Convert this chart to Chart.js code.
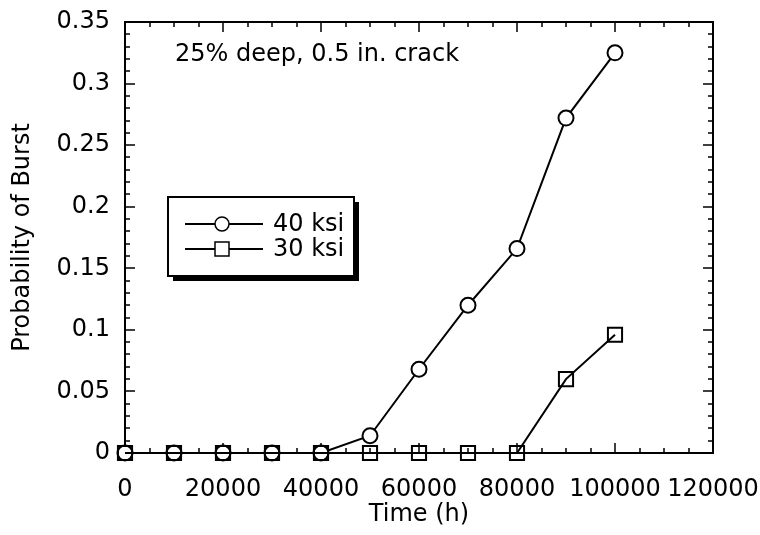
<!DOCTYPE html>
<html>
<head>
<meta charset="utf-8">
<script src="https://cdn.jsdelivr.net/npm/chart.js@4"></script>
<style>
  html, body { margin: 0; padding: 0; background: #fff; }
</style>
</head>
<body>
<canvas id="burstChart" width="760" height="535"></canvas>
<script>
// Data
const timeHours = [0, 10000, 20000, 30000, 40000, 50000, 60000, 70000, 80000, 90000, 100000];
const prob40ksi = [0, 0, 0, 0, 0, 0.014, 0.068, 0.12, 0.166, 0.272, 0.325];
const prob30ksi = [0, 0, 0, 0, 0, 0, 0, 0, 0, 0.060, 0.096];
const seriesLabels = ["40 ksi", "30 ksi"];
const xTickValues = [0, 20000, 40000, 60000, 80000, 100000, 120000];
const yTickValues = [0, 0.05, 0.1, 0.15, 0.2, 0.25, 0.3, 0.35];
const noteText = "25% deep, 0.5 in. crack";

const FONT = "'DejaVu Sans', sans-serif";
const INK = "#000";

const toPoints = (xs, ys) => xs.map((x, i) => ({ x: x, y: ys[i] }));

// drop the automatic label overhang so the plot box sits where layout.padding puts it
const noPad = (s) => { s.paddingLeft = s.paddingRight = s.paddingTop = s.paddingBottom = 0; };

// frame + inward tick marks on all four sides
const framePlugin = {
    id: "frame",
    beforeDatasetsDraw(chart) {
        const { ctx, chartArea: a, scales } = chart;
        ctx.save();
        ctx.strokeStyle = INK;
        ctx.lineWidth = 2;
        ctx.strokeRect(a.left, a.top, a.right - a.left, a.bottom - a.top);

        ctx.lineWidth = 1.5;
        // x ticks every 5000, long ones at the labelled values
        for (let v = scales.x.min; v <= scales.x.max; v += 5000) {
            const px = Math.round(scales.x.getPixelForValue(v));
            const len = xTickValues.includes(v) ? 10 : 5;
            ctx.beginPath();
            ctx.moveTo(px, a.bottom); ctx.lineTo(px, a.bottom - len);
            ctx.moveTo(px, a.top); ctx.lineTo(px, a.top + len);
            ctx.stroke();
        }
        // y ticks every 0.01
        for (let i = 0; i <= 35; i++) {
            const py = Math.round(scales.y.getPixelForValue(i / 100));
            const len = i % 5 === 0 ? 10 : 5;
            ctx.beginPath();
            ctx.moveTo(a.left, py); ctx.lineTo(a.left + len, py);
            ctx.moveTo(a.right, py); ctx.lineTo(a.right - len, py);
            ctx.stroke();
        }
        ctx.restore();
    },
    afterDatasetsDraw(chart) {
        const { ctx } = chart;
        ctx.save();
        ctx.fillStyle = INK;
        ctx.font = "24px " + FONT;
        ctx.textBaseline = "middle";
        ctx.fillText(noteText, 175, 55);

        // boxed legend with a drop shadow
        const bx = 168, by = 197, bw = 186, bh = 79;
        ctx.fillStyle = INK;
        ctx.fillRect(bx + 5, by + 5, bw, bh);
        ctx.fillStyle = "#fff";
        ctx.fillRect(bx, by, bw, bh);
        ctx.strokeStyle = INK;
        ctx.lineWidth = 2;
        ctx.strokeRect(bx, by, bw, bh);

        chart.data.datasets.forEach((ds, i) => {
            const y = 224 + i * 25;
            ctx.strokeStyle = INK;
            ctx.lineWidth = 2;
            ctx.beginPath();
            ctx.moveTo(185, y); ctx.lineTo(263, y);
            ctx.stroke();
            ctx.fillStyle = "#fff";
            ctx.lineWidth = 1.5;
            if (ds.pointStyle === "circle") {
                ctx.beginPath();
                ctx.arc(222, y, 7, 0, Math.PI * 2);
                ctx.fill(); ctx.stroke();
            } else {
                ctx.fillRect(215, y - 7, 14, 14);
                ctx.strokeRect(215, y - 7, 14, 14);
            }
            ctx.fillStyle = INK;
            ctx.fillText(ds.label, 273, y + 1);
        });
        ctx.restore();
    }
};

const ctx = document.getElementById("burstChart");

new Chart(ctx, {
    type: "line",
    data: {
        datasets: [
            {
                label: seriesLabels[0],
                data: toPoints(timeHours, prob40ksi),
                order: 1,
                borderColor: INK,
                borderWidth: 2,
                pointStyle: "circle",
                pointRadius: 7.5,
                pointBorderWidth: 2,
                pointBorderColor: INK,
                pointBackgroundColor: "#fff",
                tension: 0,
                clip: false
            },
            {
                label: seriesLabels[1],
                data: toPoints(timeHours, prob30ksi),
                order: 0,
                borderColor: INK,
                borderWidth: 2,
                pointStyle: "rect",
                pointRadius: 10,
                pointBorderWidth: 2,
                pointBorderColor: INK,
                pointBackgroundColor: "rgba(255,255,255,0)",
                tension: 0,
                clip: false
            }
        ]
    },
    options: {
        responsive: false,
        animation: false,
        devicePixelRatio: 1,
        layout: { padding: { left: 0, top: 22, right: 47, bottom: 0 } },
        plugins: {
            legend: { display: false },
            tooltip: { enabled: false }
        },
        scales: {
            x: {
                type: "linear",
                min: 0,
                max: 120000,
                afterBuildTicks: (s) => { s.ticks = xTickValues.map(v => ({ value: v })); },
                afterFit: (s) => { s.height = 82; noPad(s); },
                grid: { display: false },
                border: { display: false },
                ticks: {
                    color: INK,
                    padding: 14,
                    maxRotation: 0,
                    autoSkip: false,
                    font: { family: FONT, size: 24 },
                    callback: (v) => String(v)
                },
                title: {
                    display: true,
                    text: "Time (h)",
                    color: INK,
                    padding: { top: 0, bottom: 6 },
                    font: { family: FONT, size: 24 }
                }
            },
            y: {
                type: "linear",
                min: 0,
                max: 0.35,
                afterBuildTicks: (s) => { s.ticks = yTickValues.map(v => ({ value: v })); },
                afterFit: (s) => { s.width = 125; noPad(s); },
                grid: { display: false },
                border: { display: false },
                ticks: {
                    color: INK,
                    padding: 7,
                    font: { family: FONT, size: 24 },
                    callback: (v) => String(parseFloat(v.toFixed(2)))
                },
                title: {
                    display: true,
                    text: "Probability of Burst",
                    color: INK,
                    padding: { top: 8, bottom: 0 },
                    font: { family: FONT, size: 24 }
                }
            }
        }
    },
    plugins: [framePlugin]
});
</script>
</body>
</html>
